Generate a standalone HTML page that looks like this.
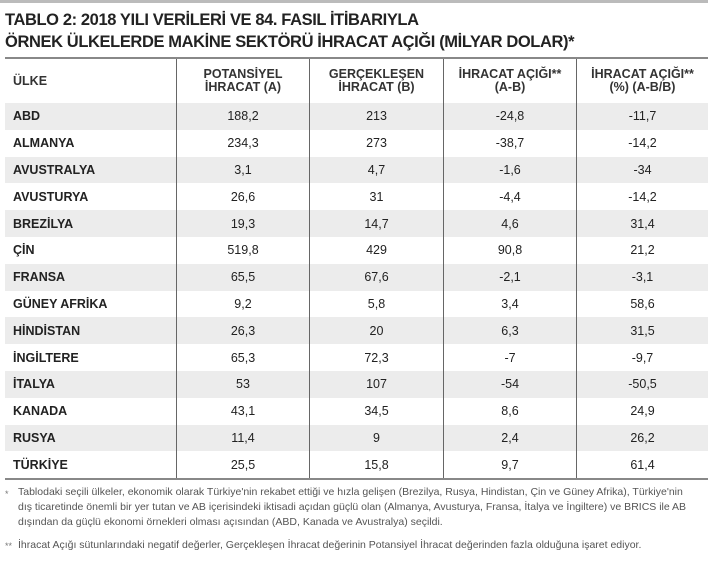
<!DOCTYPE html>
<html><head><meta charset="utf-8"><style>
body{margin:0;width:708px;height:566px;background:#fff;font-family:"Liberation Sans",sans-serif;color:#222;position:relative;overflow:hidden}
.topbar{position:absolute;left:0;top:0;width:708px;height:3px;background:#bbb}
.title{position:absolute;left:5px;font-weight:bold;font-size:17px;letter-spacing:-0.4px;transform:scaleX(0.97);transform-origin:left;white-space:nowrap}
table{position:absolute;left:5px;top:57px;width:703px;border-collapse:collapse;border-top:2px solid #888;border-bottom:2px solid #888}
td{height:26.8px;padding:0;font-size:12.5px;text-align:center;border-left:1.5px solid #666}
td:first-child{border-left:none;text-align:left;padding-left:8px;font-weight:bold;width:163px}
tr.h td{height:44px;font-size:12.5px;line-height:13px;font-weight:bold;color:#333}
tr.g td{background:#ececec}
.fn{position:absolute;left:18px;font-size:10.5px;color:#555;line-height:15px;white-space:nowrap}
.st{position:absolute;left:5px;font-size:9px;color:#777}
</style></head><body>
<div class="topbar"></div>
<div class="title" style="top:10px">TABLO 2: 2018 YILI VERİLERİ VE 84. FASIL İTİBARIYLA</div>
<div class="title" style="top:32px">ÖRNEK ÜLKELERDE MAKİNE SEKTÖRÜ İHRACAT AÇIĞI (MİLYAR DOLAR)*</div>
<table>
<tr class="h"><td>ÜLKE</td><td style="width:132px">POTANSİYEL<br>İHRACAT (A)</td><td style="width:133px">GERÇEKLEŞEN<br>İHRACAT (B)</td><td style="width:132px">İHRACAT AÇIĞI**<br>(A-B)</td><td>İHRACAT AÇIĞI**<br>(%) (A-B/B)</td></tr>
<tr class="g"><td>ABD</td><td>188,2</td><td>213</td><td>-24,8</td><td>-11,7</td></tr>
<tr><td>ALMANYA</td><td>234,3</td><td>273</td><td>-38,7</td><td>-14,2</td></tr>
<tr class="g"><td>AVUSTRALYA</td><td>3,1</td><td>4,7</td><td>-1,6</td><td>-34</td></tr>
<tr><td>AVUSTURYA</td><td>26,6</td><td>31</td><td>-4,4</td><td>-14,2</td></tr>
<tr class="g"><td>BREZİLYA</td><td>19,3</td><td>14,7</td><td>4,6</td><td>31,4</td></tr>
<tr><td>ÇİN</td><td>519,8</td><td>429</td><td>90,8</td><td>21,2</td></tr>
<tr class="g"><td>FRANSA</td><td>65,5</td><td>67,6</td><td>-2,1</td><td>-3,1</td></tr>
<tr><td>GÜNEY AFRİKA</td><td>9,2</td><td>5,8</td><td>3,4</td><td>58,6</td></tr>
<tr class="g"><td>HİNDİSTAN</td><td>26,3</td><td>20</td><td>6,3</td><td>31,5</td></tr>
<tr><td>İNGİLTERE</td><td>65,3</td><td>72,3</td><td>-7</td><td>-9,7</td></tr>
<tr class="g"><td>İTALYA</td><td>53</td><td>107</td><td>-54</td><td>-50,5</td></tr>
<tr><td>KANADA</td><td>43,1</td><td>34,5</td><td>8,6</td><td>24,9</td></tr>
<tr class="g"><td>RUSYA</td><td>11,4</td><td>9</td><td>2,4</td><td>26,2</td></tr>
<tr><td>TÜRKİYE</td><td>25,5</td><td>15,8</td><td>9,7</td><td>61,4</td></tr>
</table>
<div class="st" style="top:489px">*</div>
<div class="fn" style="top:485px">Tablodaki seçili ülkeler, ekonomik olarak Türkiye'nin rekabet ettiği ve hızla gelişen (Brezilya, Rusya, Hindistan, Çin ve Güney Afrika), Türkiye'nin<br>dış ticaretinde önemli bir yer tutan ve AB içerisindeki iktisadi açıdan güçlü olan (Almanya, Avusturya, Fransa, İtalya ve İngiltere) ve BRICS ile AB<br>dışından da güçlü ekonomi örnekleri olması açısından (ABD, Kanada ve Avustralya) seçildi.</div>
<div class="st" style="top:541px">**</div>
<div class="fn" style="top:538px">İhracat Açığı sütunlarındaki negatif değerler, Gerçekleşen İhracat değerinin Potansiyel İhracat değerinden fazla olduğuna işaret ediyor.</div>
</body></html>
